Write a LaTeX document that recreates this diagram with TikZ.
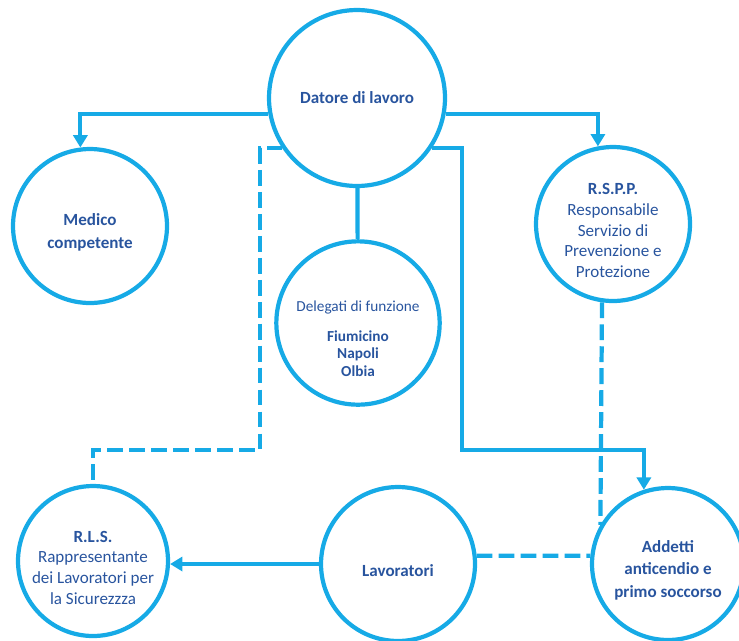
\documentclass[tikz,border=0pt]{standalone}
\usepackage{fontspec}
\setmainfont{Carlito}
\usetikzlibrary{arrows.meta}
\definecolor{linea}{RGB}{22,170,230}
\definecolor{testo}{RGB}{40,84,158}
\newcommand{\alza}{\rule{0pt}{14pt}}
\tikzset{>={Triangle[width=8pt,length=7pt]}}
\tikzset{
  ruolo/.style={circle, draw=linea, line width=2.4pt, inner sep=0pt, align=center,
    text=testo, font=\fontsize{9.7}{12.8}\selectfont},
  collega/.style={draw=linea, line width=2.4pt},
  tratteggio/.style={collega, dash pattern=on 9pt off 3.5pt}
}

\begin{document}
\begin{tikzpicture}[x=0.02cm, y=-0.02cm]
        \useasboundingbox (0,0) rectangle (739,640);

        % Circles of the organisation chart
        \node[ruolo, minimum size=3.52cm] (datore) at (357,98) {\textbf{Datore di lavoro}};
        \node[ruolo, minimum size=3.08cm] (medico) at (90,226) {\alza\textbf{Medico}\\\textbf{competente}};
        \node[ruolo, minimum size=3.08cm, font=\fontsize{9.7}{11.8}\selectfont] (rspp) at (613,224)
            {\alza\textbf{R.S.P.P.}\\Responsabile\\Servizio di\\Prevenzione e\\Protezione};
        \node[ruolo, minimum size=3.08cm, font=\fontsize{8.7}{10}\selectfont] (delegati) at (358,323)
            {\rule{0pt}{24pt}Delegati di funzione\\[7pt]\textbf{Fiumicino}\\\textbf{Napoli}\\\textbf{Olbia}};
        \node[ruolo, minimum size=3.0cm, font=\fontsize{9.7}{11.8}\selectfont] (rls) at (93,561)
            {\alza\textbf{R.L.S.}\\Rappresentante\\dei Lavoratori per\\la Sicurezzza};
        \node[ruolo, minimum size=3.08cm] (lavoratori) at (398,564) {\alza\textbf{Lavoratori}};
        \node[ruolo, minimum size=3.04cm] (addetti) at (668,564)
            {\alza\textbf{Addetti}\\\textbf{anticendio e}\\\textbf{primo soccorso}};

        % Bends of the long connectors
        \coordinate (rlsbend) at (260,450);
        \coordinate (addbend) at (462,450);

        % Solid connectors from the employer
        \draw[collega, ->] (datore.190) -| (medico.97);
        \draw[collega, ->] (datore.350) -| (rspp.101);
        \draw[collega] (datore) -- (delegati);
        \draw[collega, ->] (datore.326) -| (addbend) -| (addetti.108);
        \draw[collega, ->] (lavoratori.west) -- (lavoratori.west -| rls.east);

        % Dashed connectors
        \draw[tratteggio] (datore.214) -| (rlsbend) -| (rls.north);
        \draw[tratteggio] (rspp.262) -- (addetti.150);
        \draw[tratteggio] (lavoratori.6) -- (addetti.174);

    \end{tikzpicture}
\end{document}
